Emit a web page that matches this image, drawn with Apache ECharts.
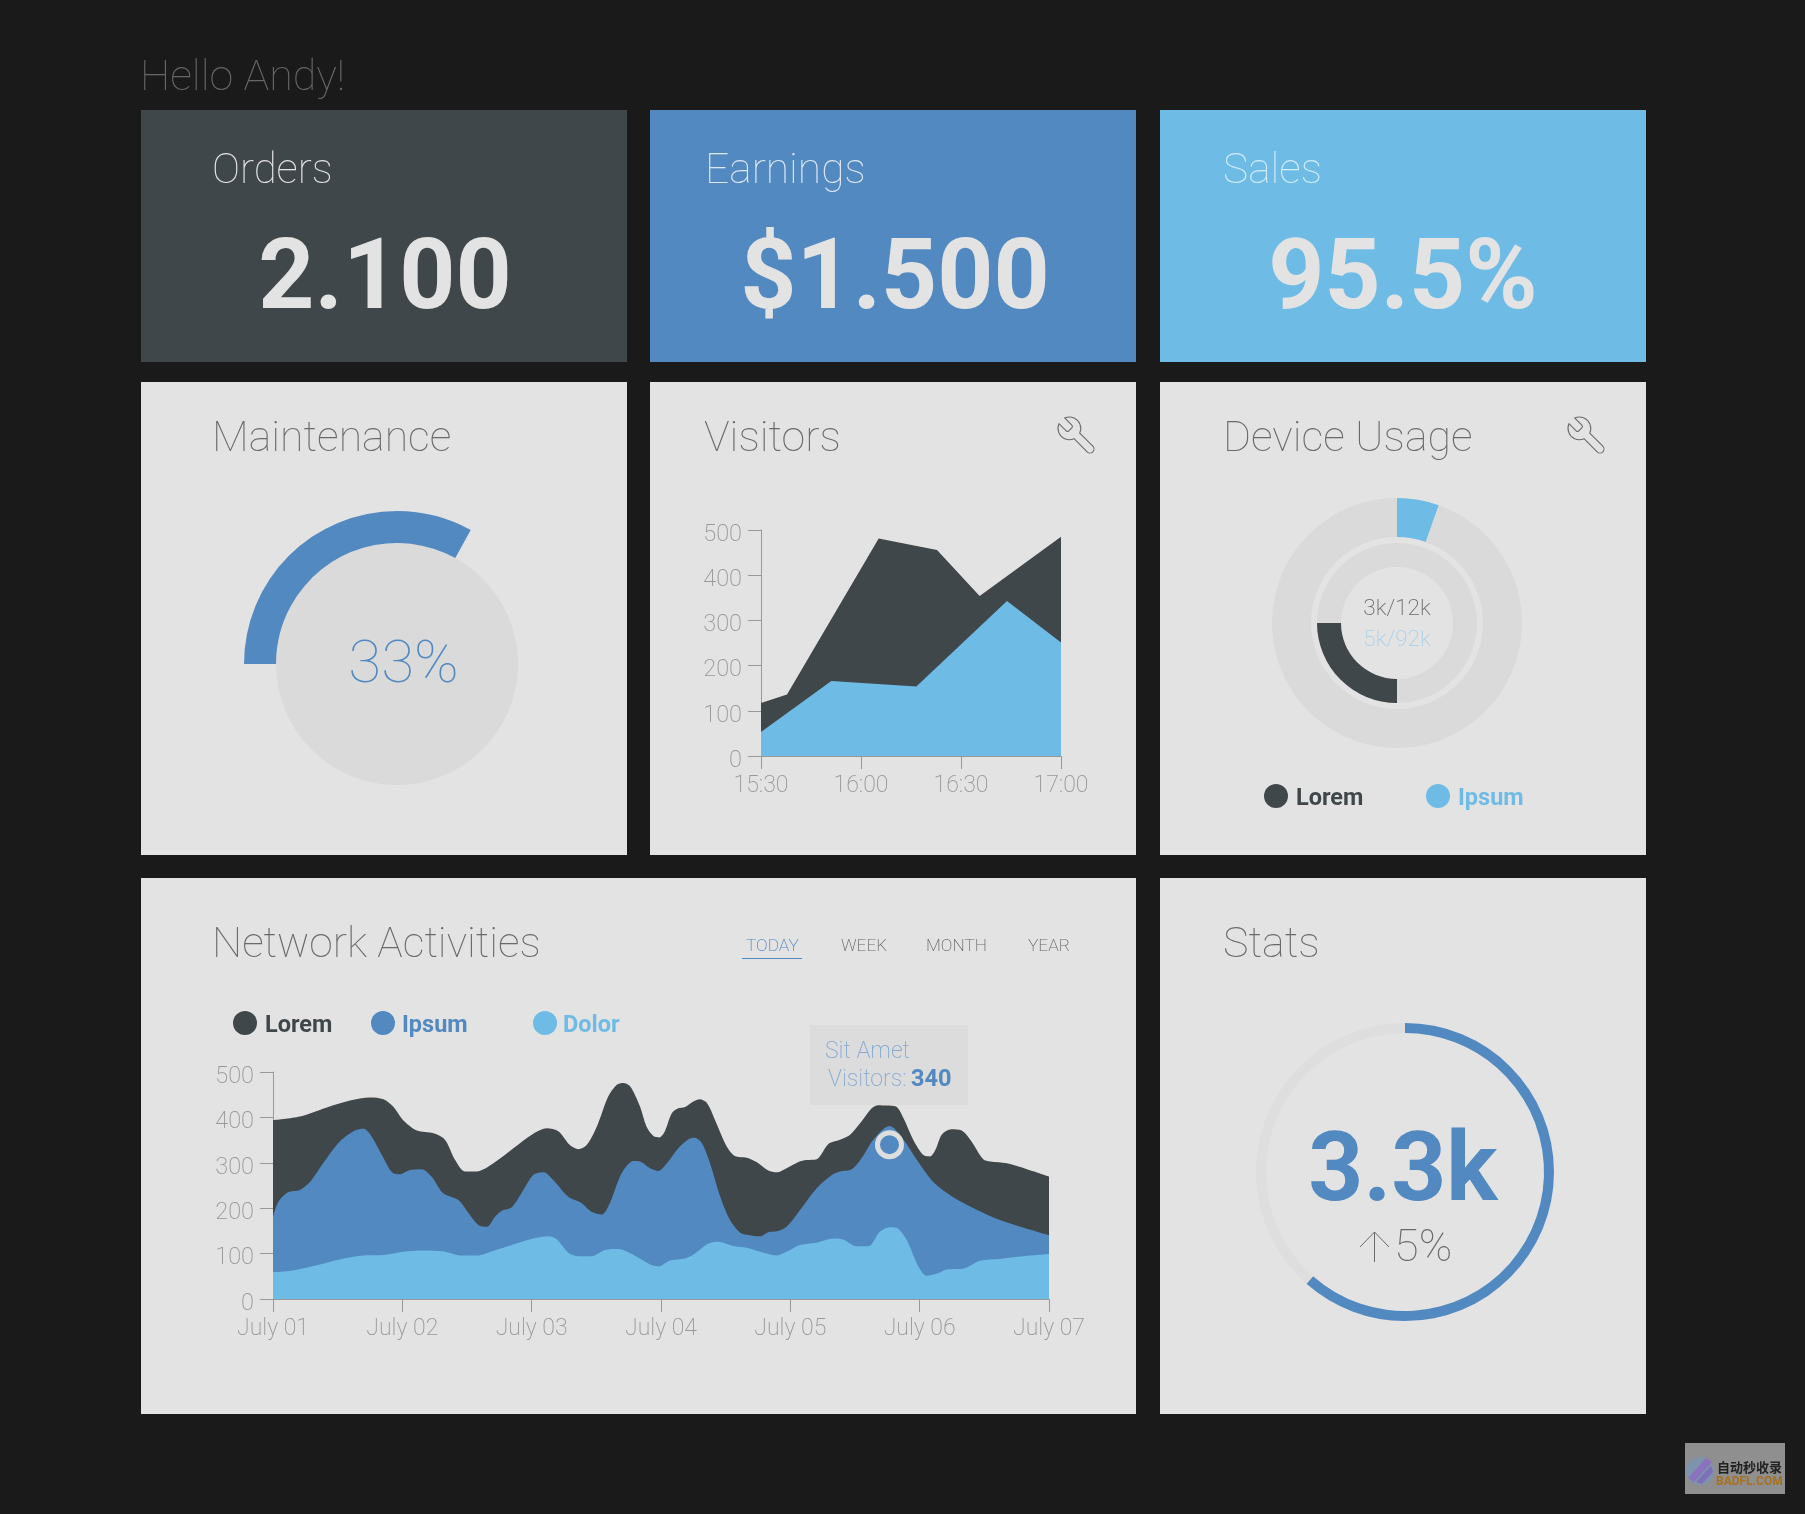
<!DOCTYPE html>
<html>
<head>
<meta charset="utf-8">
<title>Dashboard</title>
<style>
  html, body { margin: 0; padding: 0; background: #1a1a1a; }
  #board { width: 1805px; height: 1514px; }
</style>
<script src="https://cdn.jsdelivr.net/npm/echarts@6/dist/echarts.min.js"></script>
</head>
<body>
<div id="board"></div>
<script>
// Dashboard palette
const INK = '#40474b', BLUE = '#5189c0', SKY = '#6ebce5', PAPER = '#e4e3e4',
      TRACK = '#dadada', BG = '#1a1a1a', AXIS = '#989898', MUTED = '#6a6a6a';
const FONT = 'Roboto';

// Summary tiles
const tileTitles = ['Orders', 'Earnings', 'Sales'];
const tileValues = ['2.100', '$1.500', '95.5%'];

// Maintenance gauge, percent
const maintenancePercent = 33;

// Visitors chart: minutes after 15:30
const visitorTickLabels = ['15:30', '16:00', '16:30', '17:00'];
const visitorsDarkMinutes = [0, 7.8, 35.3, 52.8, 65.6, 90];
const visitorsDarkValues = [117, 136, 481, 456, 354, 485];
const visitorsLightMinutes = [0, 21.1, 46.6, 73.8, 90];
const visitorsLightValues = [53, 166, 154, 343, 251];

// Device usage, thousands
const deviceLorem = [3, 12];
const deviceIpsum = [5, 92];

// Network activities: hours after July 01
const networkDayLabels = ['July 01', 'July 02', 'July 03', 'July 04', 'July 05', 'July 06', 'July 07'];
const loremHours = [0, 5, 10, 14.3, 18, 20.5, 22.3, 24.2, 26.7, 29.8, 31.9, 33.8, 35.6, 37.8, 40.9, 44.6, 48.3, 50.8, 53, 55.1, 56.7, 58.2, 60.1, 62.2, 63.8, 65, 66.3, 68.1, 69.3, 70.6, 71.7, 72.7, 74, 75.2, 76.5, 78, 79.2, 80.5, 82, 84.2, 85.7, 87.9, 89.8, 91.9, 93.5, 95.3, 97.5, 99, 100.9, 103.1, 105.2, 107.1, 109.2, 111.1, 112.3, 113.9, 115.6, 117, 118.8, 120.7, 121.9, 122.9, 124.1, 125.9, 127.8, 129.4, 131.8, 133.1, 136.2, 139.9, 144];
const loremValues = [394, 402, 422, 437, 444, 440, 424, 393, 371, 365, 351, 306, 281, 281, 299, 332, 364, 376, 369, 339, 330, 339, 380, 446, 472, 476, 468, 424, 380, 359, 356, 369, 409, 420, 423, 435, 440, 432, 395, 336, 315, 311, 301, 283, 279, 288, 302, 306, 308, 342, 351, 362, 391, 420, 427, 426, 424, 398, 351, 317, 314, 328, 362, 374, 371, 351, 308, 303, 299, 286, 270];
const ipsumHours = [0, 1, 2.8, 5, 6.9, 9.3, 12.4, 15.2, 16.8, 18.3, 20.2, 22.3, 23.6, 25.4, 27.6, 29.4, 31.6, 34.4, 36.3, 38.1, 39.7, 41.2, 42.4, 44.3, 46.1, 48.3, 50.2, 52, 54.8, 57.3, 59.1, 61, 62.5, 64.7, 66.9, 68.1, 70, 71.5, 73.1, 75.2, 77.1, 78.3, 79.6, 81.1, 83, 84.8, 86.7, 88.2, 90.4, 91.9, 93.5, 95.3, 97.8, 100.9, 103.7, 105.2, 107.4, 109.2, 111.4, 114.4, 117, 119.5, 122.5, 125.6, 130, 134.9, 139.9, 144];
const ipsumValues = [181, 214, 235, 240, 258, 299, 347, 371, 375, 358, 317, 277, 275, 284, 286, 270, 233, 218, 189, 163, 159, 181, 194, 202, 233, 273, 279, 262, 225, 211, 192, 186, 211, 277, 304, 303, 288, 282, 299, 332, 352, 355, 343, 299, 225, 174, 146, 141, 138, 147, 149, 159, 196, 244, 273, 281, 286, 310, 351, 381, 351, 306, 258, 229, 200, 174, 155, 141];
const dolorHours = [0, 2.5, 6.2, 10, 13.1, 16.8, 20.5, 24.2, 27.9, 31.6, 34.7, 37.8, 40.9, 44.6, 48.3, 51.1, 52.6, 54.8, 56.7, 59.1, 61.6, 64.1, 66.6, 70, 71.5, 73.7, 76.5, 78.3, 80.8, 82.6, 85.4, 87.9, 91, 93.5, 95.3, 97.8, 100.9, 104, 105.8, 108.3, 110.5, 112.6, 114.5, 116, 117.6, 119.8, 121.3, 123.2, 125, 128.4, 131.2, 134.9, 139.2, 144];
const dolorValues = [59, 61, 69, 80, 89, 96, 97, 104, 107, 105, 96, 96, 106, 120, 133, 138, 132, 102, 94, 94, 108, 110, 99, 76, 72, 85, 89, 100, 122, 126, 117, 113, 102, 96, 104, 119, 124, 133, 131, 116, 116, 148, 158, 155, 130, 71, 51, 56, 65, 68, 84, 88, 94, 99];

// Highlighted network reading
const tooltipHour = 114.4;
const tooltipVisitors = 340;

// Stats ring, percent of the full circle
const statsShare = [61.5, 38.5];

const zip = (xs, ys) => xs.map((x, i) => [x, ys[i]]);

// Positioned label; the second number is the text baseline
function label(text, x, baseline, size, fill, weight, align, family) {
  return {
    type: 'text', z: 100, silent: true, x: x, y: baseline - size * 0.26,
    style: {
      text: text, fill: fill, fontFamily: family || FONT, fontSize: size,
      fontWeight: weight || 300, textAlign: align || 'left', textVerticalAlign: 'middle'
    }
  };
}
const panel = (x, y, w, h, fill) => ({
  type: 'rect', z: 0, silent: true, shape: { x: x, y: y, width: w, height: h }, style: { fill: fill || PAPER }
});
const dot = (cx, cy, r, fill) => ({
  type: 'circle', z: 10, silent: true, shape: { cx: cx, cy: cy, r: r }, style: { fill: fill }
});

const graphics = [
  // Tiles and cards
  panel(141, 110, 486, 252, INK),
  panel(650, 110, 486, 252, BLUE),
  panel(1160, 110, 486, 252, SKY),
  panel(141, 382, 486, 473),
  panel(650, 382, 486, 473),
  panel(1160, 382, 486, 473),
  panel(141, 878, 995, 536),
  panel(1160, 878, 486, 536),

  label('Hello Andy!', 140, 90, 43, '#666666', 100),

  label(tileTitles[0], 212, 183, 42, PAPER, 100),
  label(tileTitles[1], 705, 183, 42.5, '#dfe8f2', 100),
  label(tileTitles[2], 1223, 183, 42.5, '#d3ebf8', 100),
  label(tileValues[0], 385, 309, 98, PAPER, 700, 'center'),
  label(tileValues[1], 895, 309, 98, PAPER, 700, 'center'),
  label(tileValues[2], 1403, 309, 98, PAPER, 700, 'center'),

  label('Maintenance', 212, 451.5, 42.8, MUTED, 100),
  label(maintenancePercent + '%', 403.5, 683, 60, BLUE, 100, 'center'),

  label('Visitors', 704, 451.5, 42.8, MUTED, 100),

  label('Device Usage', 1223, 451.5, 42.8, MUTED, 100),
  label(deviceLorem[0] + 'k/' + deviceLorem[1] + 'k', 1397, 615, 22.5, MUTED, 200, 'center'),
  label(deviceIpsum[0] + 'k/' + deviceIpsum[1] + 'k', 1397, 646, 22.5, '#a8d0e8', 200, 'center'),
  dot(1276, 796, 12, INK),
  label('Lorem', 1296, 805, 23.5, INK, 700),
  dot(1438, 796, 12, SKY),
  label('Ipsum', 1458, 805, 23.5, SKY, 700),

  label('Network Activities', 212, 957, 42.6, MUTED, 100),
  label('TODAY', 746, 951, 17.3, BLUE, 200),
  { type: 'rect', z: 10, silent: true, shape: { x: 742, y: 958, width: 60, height: 1 }, style: { fill: BLUE } },
  label('WEEK', 841, 951, 17.3, MUTED, 200),
  label('MONTH', 926, 951, 17.3, MUTED, 200),
  label('YEAR', 1028, 951, 17.3, MUTED, 200),
  dot(245, 1023, 12, INK),
  label('Lorem', 265, 1032, 23.5, INK, 700),
  dot(383, 1023, 12, BLUE),
  label('Ipsum', 402, 1032, 23.5, BLUE, 700),
  dot(545, 1023, 12, SKY),
  label('Dolor', 563, 1032, 23.5, SKY, 700),

  // Reading callout
  panel(810, 1025, 158, 80, '#dcdcdc'),
  label('Sit Amet', 825, 1058, 23, '#86a9d0', 200),
  label('Visitors:', 828, 1086, 23, '#86a9d0', 200),
  label(String(tooltipVisitors), 911, 1086, 23.5, BLUE, 700),

  label('Stats', 1223, 957, 43, MUTED, 100),
  label('3.3k', 1403, 1201, 96, BLUE, 700, 'center'),
  label('5%', 1394, 1261, 45, MUTED, 100),
  {
    type: 'polyline', z: 100, silent: true,
    shape: { points: [[1360, 1247], [1374.5, 1232], [1389, 1247]] },
    style: { fill: 'none', stroke: MUTED, lineWidth: 1 }
  },
  {
    type: 'line', z: 100, silent: true,
    shape: { x1: 1374.5, y1: 1232, x2: 1374.5, y2: 1262 },
    style: { stroke: MUTED, lineWidth: 1 }
  },

  // Corner badge
  panel(1685, 1443, 100, 51, '#8f8f8f'),
  { type: 'circle', z: 10, silent: true, shape: { cx: 1700, cy: 1471, r: 14 }, style: { fill: '#7f93ad' } },
  { type: 'polygon', z: 11, silent: true, shape: { points: [[1688, 1478], [1706, 1458], [1712, 1462], [1694, 1482]] }, style: { fill: '#8a72bf' } },
  { type: 'polygon', z: 11, silent: true, shape: { points: [[1696, 1482], [1711, 1466], [1713, 1472], [1702, 1484]] }, style: { fill: '#7d6fb8' } },
  label('自动秒收录', 1717, 1470, 13, '#222222', 700, 'left', 'Noto Sans CJK SC'),
  label('BADFL.COM', 1716, 1485, 12, '#a9701f', 700)
];

// Shared axis look
const axisBits = {
  axisLine: { show: true, onZero: false, lineStyle: { color: AXIS, width: 1 } },
  axisTick: { show: true, length: 13, lineStyle: { color: AXIS, width: 1 } },
  splitLine: { show: false }
};
// Value labels sit a little below their ticks
const yLabel = { color: AXIS, fontFamily: FONT, fontWeight: 200, fontSize: 23.5, margin: 19, verticalAlign: 'top', lineHeight: 10 };
const xLabel = { color: AXIS, fontFamily: FONT, fontWeight: 200, fontSize: 23, margin: 19 };

const areaLine = (axisIndex, data, color, smooth) => ({
  type: 'line', xAxisIndex: axisIndex, yAxisIndex: axisIndex, data: data,
  smooth: smooth, showSymbol: false, silent: true,
  lineStyle: { width: 0 }, areaStyle: { color: color, opacity: 1 }, itemStyle: { color: color }
});

const ringPie = (center, radius, startAngle, values, colors) => ({
  type: 'pie', center: center, radius: radius, startAngle: startAngle, clockwise: true, silent: true,
  label: { show: false }, labelLine: { show: false }, animation: false,
  data: values.map((v, i) => ({ value: v, itemStyle: { color: colors[i] } }))
});

// Outline spanner drawn at each given top-right corner
const wrenchCorners = [[1094, 417], [1604, 417]];
const WRENCH_PATH = 'M14.7 6.3a1 1 0 0 0 0 1.4l1.6 1.6a1 1 0 0 0 1.4 0l3.77-3.77a6 6 0 0 1-7.94 7.94l-6.91 6.91a2.12 2.12 0 0 1-3-3l6.91-6.91a6 6 0 0 1 7.94-7.94l-3.76 3.76z';
const wrenchSeries = {
  type: 'custom', coordinateSystem: 'none', silent: true, z: 10, data: wrenchCorners,
  renderItem: (params, api) => ({
    type: 'path', x: api.value(0), y: api.value(1), scaleX: -1,
    shape: { pathData: WRENCH_PATH, layout: 'cover', x: 0, y: 0, width: 36, height: 36 },
    style: { fill: 'none', stroke: '#6b6b6b', lineWidth: 1.1 }
  })
};

const chart = echarts.init(document.getElementById('board'), null, { width: 1805, height: 1514 });
chart.setOption({
  backgroundColor: BG,
  animation: false,
  graphic: { elements: graphics },
  grid: [
    { left: 761, top: 530, width: 300, height: 226 },
    { left: 273, top: 1072, width: 776, height: 227 }
  ],
  xAxis: [
    {
      gridIndex: 0, type: 'value', min: 0, max: 90, interval: 30, ...axisBits,
      axisLabel: { ...xLabel, formatter: v => visitorTickLabels[v / 30] }
    },
    {
      gridIndex: 1, type: 'value', min: 0, max: 144, interval: 24, ...axisBits,
      axisLabel: { ...xLabel, formatter: v => networkDayLabels[v / 24] }
    }
  ],
  yAxis: [
    { gridIndex: 0, type: 'value', min: 0, max: 500, interval: 100, ...axisBits, axisLabel: yLabel },
    { gridIndex: 1, type: 'value', min: 0, max: 500, interval: 100, ...axisBits, axisLabel: yLabel }
  ],
  series: [
    // Maintenance gauge
    ringPie([397, 664], [0, 121], 90, [1], [TRACK]),
    ringPie([397, 664], [121, 153], 180, [maintenancePercent, 100 - maintenancePercent], [BLUE, 'transparent']),

    // Visitors
    areaLine(0, zip(visitorsDarkMinutes, visitorsDarkValues), INK, false),
    areaLine(0, zip(visitorsLightMinutes, visitorsLightValues), SKY, false),

    // Device usage rings
    ringPie([1397, 623], [86, 125], 90, [deviceIpsum[0], deviceIpsum[1] - deviceIpsum[0]], [SKY, TRACK]),
    ringPie([1397, 623], [56, 80], 270, [deviceLorem[0], deviceLorem[1] - deviceLorem[0]], [INK, TRACK]),

    // Network activities
    areaLine(1, zip(loremHours, loremValues), INK, 0.3),
    areaLine(1, zip(ipsumHours, ipsumValues), BLUE, 0.3),
    areaLine(1, zip(dolorHours, dolorValues), SKY, 0.3),
    {
      type: 'scatter', xAxisIndex: 1, yAxisIndex: 1, silent: true, z: 5,
      data: [[tooltipHour, tooltipVisitors]], symbolSize: 24,
      itemStyle: { color: BLUE, borderColor: '#dedede', borderWidth: 5, opacity: 1 }
    },

    // Stats ring
    ringPie([1405, 1172], [139, 149], 90, statsShare, [BLUE, '#dedede']),

    wrenchSeries
  ]
});
</script>
</body>
</html>
